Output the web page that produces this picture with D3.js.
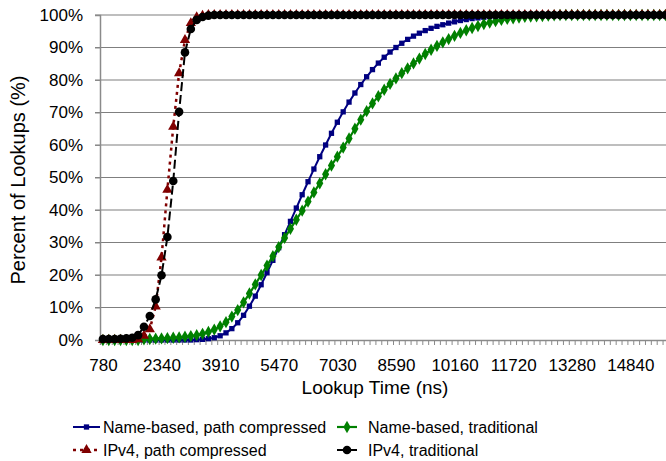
<!DOCTYPE html>
<html>
<head>
<meta charset="utf-8">
<script src="https://cdn.jsdelivr.net/npm/d3@7"></script>
<style>
  body { margin: 0; background: #fff; }
  svg { display: block; }
  text { font-family: "Liberation Sans", Arial, sans-serif; fill: #000; }
</style>
</head>
<body>
<div id="chart"></div>
<script>
// --- Data (percent of lookups per lookup-time bin) ---
const xLabels = ['780', '2340', '3910', '5470', '7030', '8590', '10160', '11720', '13280', '14840'];
const yTicks = [0, 10, 20, 30, 40, 50, 60, 70, 80, 90, 100];

const namePathCompressed = [
  0, 0, 0, 0, 0, 0, 0, 0, 0, 0, 0, 0, 0, 0, 0, 0,
  0.1, 0.2, 0.4, 0.7, 1.3, 2.2, 3.5, 5.3, 7.6, 10.4, 13.5, 17.0, 20.7, 24.5,
  28.4, 32.4, 36.5, 40.6, 44.7, 48.7, 52.6, 56.4, 60.0, 63.6, 67.0, 70.2, 73.2, 76.0,
  78.6, 81.0, 83.2, 85.2, 87.0, 88.6, 90.0, 91.3, 92.5, 93.5, 94.4, 95.2, 95.9, 96.5,
  97.0, 97.5, 97.9, 98.3, 98.6, 98.9, 99.1, 99.3, 99.5, 99.6, 99.7, 99.8, 99.9,
  100, 100, 100, 100, 100, 100, 100, 100, 100, 100, 100, 100, 100, 100,
  100, 100, 100, 100, 100, 100, 100, 100, 100, 100, 100, 100, 100
];

const nameTraditional = [
  0, 0, 0, 0, 0, 0, 0,
  0.2, 0.3, 0.4, 0.5, 0.6, 0.7, 0.8, 1.0, 1.2, 1.5, 1.9, 2.5, 3.2, 4.2, 5.5, 7.2,
  9.2, 11.6, 14.3, 17.1, 20.0, 22.9, 25.8, 28.6, 31.4, 34.2, 37.0, 39.8, 42.6, 45.4,
  48.2, 51.0, 53.7, 56.4, 59.2, 62.0, 65.0, 67.8, 70.4, 72.8, 75.0, 77.0, 78.8, 80.5,
  82.1, 83.6, 85.1, 86.6, 88.0, 89.3, 90.5, 91.6, 92.6, 93.6, 94.5, 95.3, 96.0, 96.6,
  97.2, 97.7, 98.1, 98.5, 98.8, 99.0, 99.2, 99.4, 99.5, 99.6, 99.7, 99.8, 99.9,
  100, 100, 100, 100, 100, 100, 100, 100, 100, 100,
  100, 100, 100, 100, 100, 100, 100, 100, 100, 100
];

const ipv4PathCompressed = [
  0, 0, 0, 0, 0, 0, 0.2, 1.3, 3.3, 10.3, 25.4, 46.2, 65.6, 82.1, 92.3, 97.5, 99.3, 99.8,
  100, 100, 100, 100, 100, 100, 100, 100, 100, 100, 100, 100, 100, 100, 100, 100,
  100, 100, 100, 100, 100, 100, 100, 100, 100, 100, 100, 100, 100, 100, 100, 100,
  100, 100, 100, 100, 100, 100, 100, 100, 100, 100, 100, 100, 100, 100, 100, 100,
  100, 100, 100, 100, 100, 100, 100, 100, 100, 100, 100, 100, 100, 100, 100, 100,
  100, 100, 100, 100, 100, 100, 100, 100, 100, 100, 100, 100, 100, 100, 100, 100
];

const ipv4Traditional = [
  0.3, 0.3, 0.3, 0.4, 0.5, 0.7, 1.5, 4.1, 7.4, 12.5, 19.9, 31.7, 48.9, 70.2, 88.5, 95.7, 98.5, 99.4, 99.8,
  100, 100, 100, 100, 100, 100, 100, 100, 100, 100, 100, 100, 100, 100, 100, 100,
  100, 100, 100, 100, 100, 100, 100, 100, 100, 100, 100, 100, 100, 100, 100, 100,
  100, 100, 100, 100, 100, 100, 100, 100, 100, 100, 100, 100, 100, 100, 100, 100,
  100, 100, 100, 100, 100, 100, 100, 100, 100, 100, 100, 100, 100, 100, 100, 100,
  100, 100, 100, 100, 100, 100, 100, 100, 100, 100, 100, 100, 100, 100, 100
];

const seriesList = [
  { name: 'Name-based, path compressed', values: namePathCompressed, color: '#000080', width: 2, dash: null, symbol: d3.symbolSquare, size: 28 },
  { name: 'Name-based, traditional', values: nameTraditional, color: '#008000', width: 2.2, dash: null, symbol: d3.symbolDiamond, size: 44 },
  { name: 'IPv4, path compressed', values: ipv4PathCompressed, color: '#800000', width: 2.5, dash: '3,4', symbol: d3.symbolTriangle, size: 46 },
  { name: 'IPv4, traditional', values: ipv4Traditional, color: '#000000', width: 2, dash: '9,4', symbol: d3.symbolCircle, size: 58 }
];

// --- Layout ---
const width = 666, height = 461;
const axisX = 100, y0 = 340, y100 = 15;
const step = 5.86;
const nCat = namePathCompressed.length;

const svg = d3.select('#chart').append('svg')
  .attr('width', width)
  .attr('height', height);

const x = d3.scaleLinear().domain([-0.5, nCat - 0.5]).range([axisX, axisX + nCat * step]);
const y = d3.scaleLinear().domain([0, 100]).range([y0, y100]);

// gridlines
svg.append('g').selectAll('line')
  .data(yTicks.filter(d => d > 0))
  .join('line')
  .attr('x1', axisX - 5).attr('x2', width)
  .attr('y1', d => y(d)).attr('y2', d => y(d))
  .attr('stroke', '#7f7f7f').attr('stroke-width', 1.2);

// y axis
const yAxis = svg.append('g')
  .attr('transform', `translate(${axisX},0)`)
  .call(d3.axisLeft(y).tickValues(yTicks).tickSize(5).tickPadding(12).tickFormat(d => d + '%'));
yAxis.select('.domain').attr('stroke', '#8a8a8a').attr('stroke-width', 1.5);
yAxis.selectAll('.tick line').attr('stroke', '#8a8a8a');
yAxis.selectAll('text').attr('font-size', 17).attr('font-family', '"Liberation Sans", Arial, sans-serif');

// x axis: tick marks at category boundaries
const xAxis = svg.append('g')
  .attr('transform', `translate(0,${y0})`)
  .call(d3.axisBottom(x).tickValues(d3.range(nCat + 1).map(i => i - 0.5)).tickSize(5).tickFormat(''));
xAxis.select('.domain').attr('stroke', '#8a8a8a').attr('stroke-width', 1.5);
xAxis.selectAll('.tick line').attr('stroke', '#8a8a8a');

// x labels every tenth category
const xLab = svg.append('g')
  .attr('transform', `translate(0,${y0})`)
  .call(d3.axisBottom(x).tickValues(xLabels.map((d, i) => i * 10)).tickSize(0).tickPadding(19)
    .tickFormat((d, i) => xLabels[i]));
xLab.select('.domain').remove();
xLab.selectAll('text').attr('font-size', 17).attr('font-family', '"Liberation Sans", Arial, sans-serif');

// axis titles
svg.append('text')
  .attr('x', 375).attr('y', 394)
  .attr('text-anchor', 'middle')
  .attr('font-size', 19)
  .text('Lookup Time (ns)');

svg.append('text')
  .attr('transform', 'translate(25,180) rotate(-90)')
  .attr('text-anchor', 'middle')
  .attr('font-size', 20)
  .text('Percent of Lookups (%)');

// --- Series ---
const line = d3.line().x((d, i) => x(i)).y(d => y(d));
const plot = svg.append('g');

seriesList.forEach(s => {
  plot.append('path')
    .datum(s.values)
    .attr('fill', 'none')
    .attr('stroke', s.color)
    .attr('stroke-width', s.width)
    .attr('stroke-dasharray', s.dash)
    .attr('d', line);

  plot.append('g').selectAll('path')
    .data(s.values)
    .join('path')
    .attr('transform', (d, i) => `translate(${x(i)},${y(d)})`)
    .attr('d', d3.symbol().type(s.symbol).size(s.size))
    .attr('fill', s.color);
});

// --- Legend ---
const legendPos = [
  { x: 73, y: 427 }, { x: 337, y: 427 },
  { x: 73, y: 450 }, { x: 337, y: 450 }
];
const legendLen = [27, 20, 27, 20];

seriesList.forEach((s, i) => {
  const p = legendPos[i];
  const L = legendLen[i];
  const g = svg.append('g').attr('transform', `translate(${p.x},${p.y})`);
  g.append('line')
    .attr('x1', 0).attr('x2', L)
    .attr('y1', 0).attr('y2', 0)
    .attr('stroke', s.color)
    .attr('stroke-width', s.width)
    .attr('stroke-dasharray', s.dash);
  g.append('path')
    .attr('transform', `translate(${L / 2},0)`)
    .attr('d', d3.symbol().type(s.symbol).size(s.size))
    .attr('fill', s.color);
  g.append('text')
    .attr('x', i % 2 === 0 ? 30 : 31)
    .attr('y', 0)
    .attr('dy', '0.35em')
    .attr('font-size', 16)
    .text(s.name);
});
</script>
</body>
</html>
